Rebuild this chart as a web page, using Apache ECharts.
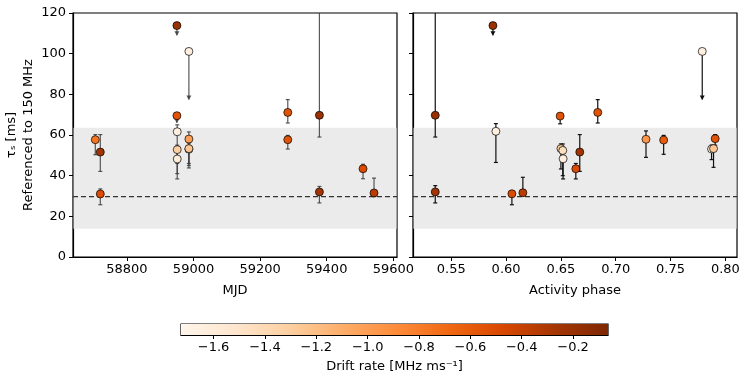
<!DOCTYPE html>
<html><head><meta charset="utf-8">
<script src="https://cdn.jsdelivr.net/npm/echarts@6/dist/echarts.min.js"></script>
<style>html,body{margin:0;padding:0;background:#fff}#c{width:748px;height:382px}</style>
</head><body><div id="c"></div>
<script>
// ---- Left panel (MJD) ----
const mjd    = [58705, 58720, 58720, 58950, 58950, 58951, 58951, 58951, 58986, 58986, 58986, 58986, 59283, 59283, 59378, 59378, 59509, 59542];
const tauL   = [57.7, 51.6, 31.0, 113.8, 69.5, 61.6, 52.8, 48.2, 101.1, 58.0, 53.0, 53.3, 71.1, 57.7, 69.7, 32.0, 43.4, 31.5];
const loL    = [50.3, 42.1, 25.7, 109.0, 66.0, 46.0, 41.0, 38.4, 77.4, 45.0, 46.0, 43.8, 65.9, 53.1, 59.0, 26.6, 38.5, 29.7];
const hiL    = [60.2, 60.2, 33.5, 113.8, 69.5, 65.0, 55.0, 52.0, 101.1, 61.5, 55.0, 56.0, 77.4, 59.8, 130.0, 34.7, 45.6, 38.8];
const ulL    = [0, 0, 0, 1, 1, 0, 0, 0, 1, 0, 0, 0, 0, 0, 0, 0, 0, 0];
const driftL = [-0.75, -0.25, -0.5, -0.2, -0.55, -1.65, -1.3, -1.6, -1.65, -1.0, -1.6, -1.25, -0.55, -0.55, -0.2, -0.25, -0.5, -0.35];

// ---- Right panel (activity phase) ----
const phase  = [0.5354, 0.5354, 0.588, 0.5907, 0.6053, 0.6153, 0.6493, 0.6500, 0.6517, 0.6520, 0.6636, 0.6672, 0.6836, 0.7276, 0.7437, 0.7789, 0.7874, 0.7892, 0.7907];
const tauR   = [69.7, 32.0, 113.8, 61.8, 31.1, 31.6, 69.3, 53.3, 52.4, 48.3, 43.4, 51.6, 71.1, 57.9, 57.5, 101.1, 53.1, 53.3, 58.2];
const loR    = [59.0, 26.6, 109.0, 46.5, 25.7, 31.6, 65.5, 43.3, 40.0, 38.4, 38.4, 42.1, 65.9, 49.0, 50.5, 77.4, 47.9, 44.1, 55.0];
const hiR    = [130.0, 35.1, 113.8, 65.6, 31.1, 39.2, 69.3, 55.6, 55.6, 50.0, 46.0, 60.2, 77.4, 62.0, 59.8, 101.1, 55.0, 55.0, 60.2];
const ulR    = [0, 0, 1, 0, 0, 0, 0, 0, 0, 0, 0, 0, 0, 0, 0, 1, 0, 0, 0];
const driftR = [-0.2, -0.25, -0.2, -1.65, -0.5, -0.35, -0.55, -1.3, -1.45, -1.65, -0.5, -0.25, -0.55, -0.95, -0.6, -1.65, -1.65, -1.25, -0.55];

// ---- Reference band / line ----
const bandRange = [13.9, 63.6];
const refLine = [29.7];

// ---- Axes ----
const mjdRange = [58638, 59611];
const mjdTicks = [58800, 59000, 59200, 59400, 59600];
const phaseRange = [0.5151, 0.8106];
const phaseTicks = [0.55, 0.60, 0.65, 0.70, 0.75, 0.80];
const tauRange = [0, 120];
const tauStep = 20;
const cbRange = [-1.727, -0.064];
const cbTicks = [-1.6, -1.4, -1.2, -1.0, -0.8, -0.6, -0.4, -0.2];
const oranges = ['#fff5eb', '#fee6ce', '#fdd0a2', '#fdae6b', '#fd8d3c', '#f16913', '#d94801', '#a63603', '#7f2704'];

const FONT = 'DejaVu Sans';
const chart = echarts.init(document.getElementById('c'), null, {renderer: 'canvas'});

function errRender(color) {
  return function (params, api) {
    const x = api.value(0), lo = api.value(1), hi = api.value(2), ul = api.value(3);
    const p1 = api.coord([x, hi]), p2 = api.coord([x, lo]);
    const st = {stroke: color, lineWidth: 1.2};
    const ch = [{type: 'line', shape: {x1: p1[0], y1: p1[1], x2: p2[0], y2: p2[1]}, style: st}];
    if (ul) {
      ch.push({type: 'polygon', shape: {points: [[p2[0] - 2.5, p2[1] - 4], [p2[0] + 2.5, p2[1] - 4], [p2[0], p2[1] + 0.5]]}, style: {fill: color}});
    } else {
      ch.push({type: 'line', shape: {x1: p1[0] - 2, y1: p1[1], x2: p1[0] + 2, y2: p1[1]}, style: st});
      ch.push({type: 'line', shape: {x1: p2[0] - 2, y1: p2[1], x2: p2[0] + 2, y2: p2[1]}, style: st});
    }
    return {type: 'group', children: ch};
  };
}
function bandRender(params, api) {
  const cs = params.coordSys;
  const yTop = api.coord([0, api.value(1)])[1];
  const yBot = api.coord([0, api.value(0)])[1];
  const yRef = api.coord([0, api.value(2)])[1];
  return {type: 'group', children: [
    {type: 'rect', shape: {x: cs.x + 0.5, y: yTop, width: cs.width - 1, height: yBot - yTop}, style: {fill: '#ebebeb'}},
    {type: 'line', shape: {x1: cs.x, y1: yRef, x2: cs.x + cs.width, y2: yRef}, style: {stroke: '#333', lineWidth: 1.2, lineDash: [5, 3]}}
  ]};
}

const bandData = [[bandRange[0], bandRange[1], refLine[0]]];
const axisCommon = {
  axisLine: {lineStyle: {color: '#000', width: 1.2}},
  axisTick: {length: 4, lineStyle: {color: '#000', width: 1}},
  axisLabel: {color: '#000', fontFamily: FONT, fontSize: 13},
  splitLine: {show: false}
};
const fmt2 = v => v.toFixed(2);
const fmtNeg = v => (v < 0 ? '\u2212' : '') + Math.abs(v).toFixed(1);

const option = {
  animation: false,
  backgroundColor: '#fff',
  grid: [
    {left: 73, top: 13, width: 324, height: 244, show: true, borderColor: '#000', borderWidth: 1.2, backgroundColor: 'transparent'},
    {left: 413, top: 13, width: 324, height: 244, show: true, borderColor: '#000', borderWidth: 1.2, backgroundColor: 'transparent'},
    {left: 181, top: 324, width: 427, height: 11, show: true, borderColor: '#000', borderWidth: 1.2, backgroundColor: 'transparent'}
  ],
  xAxis: [
    Object.assign({}, axisCommon, {gridIndex: 0, type: 'value', min: mjdRange[0], max: mjdRange[1],
      name: 'MJD', nameLocation: 'middle', nameGap: 27, nameTextStyle: {color: '#000', fontFamily: FONT, fontSize: 13},
      axisTick: {length: 4, lineStyle: {color: '#000'}, customValues: mjdTicks},
      axisLabel: {color: '#000', fontFamily: FONT, fontSize: 13, margin: 6, customValues: mjdTicks, formatter: v => String(v)}}),
    Object.assign({}, axisCommon, {gridIndex: 1, type: 'value', min: phaseRange[0], max: phaseRange[1],
      name: 'Activity phase', nameLocation: 'middle', nameGap: 27, nameTextStyle: {color: '#000', fontFamily: FONT, fontSize: 13},
      axisTick: {length: 4, lineStyle: {color: '#000'}, customValues: phaseTicks},
      axisLabel: {color: '#000', fontFamily: FONT, fontSize: 13, margin: 6, customValues: phaseTicks, formatter: fmt2}}),
    Object.assign({}, axisCommon, {gridIndex: 2, type: 'value', min: cbRange[0], max: cbRange[1],
      name: 'Drift rate [MHz ms\u207B\u00B9]', nameLocation: 'middle', nameGap: 25, nameTextStyle: {color: '#000', fontFamily: FONT, fontSize: 13},
      axisTick: {length: 4, lineStyle: {color: '#000'}, customValues: cbTicks},
      axisLabel: {color: '#000', fontFamily: FONT, fontSize: 13, margin: 6, customValues: cbTicks, formatter: fmtNeg}})
  ],
  yAxis: [
    Object.assign({}, axisCommon, {gridIndex: 0, type: 'value', min: tauRange[0], max: tauRange[1], interval: tauStep,
      axisLabel: {color: '#000', fontFamily: FONT, fontSize: 13, margin: 7}}),
    Object.assign({}, axisCommon, {gridIndex: 1, type: 'value', min: tauRange[0], max: tauRange[1], interval: tauStep,
      axisLabel: {show: false}}),
    {gridIndex: 2, type: 'value', min: 0, max: 1, show: false}
  ],
  visualMap: [{
    show: false, type: 'continuous', min: cbRange[0], max: cbRange[1], dimension: 2,
    seriesIndex: [4, 5], inRange: {color: oranges}
  }],
  graphic: [{
    type: 'text', x: 20, y: 135, rotation: Math.PI / 2,
    style: {text: '\u03C4\u209B [ms]\nReferenced to 150 MHz', fill: '#000', font: '13px "DejaVu Sans"', align: 'center', verticalAlign: 'middle', lineHeight: 17}
  }],
  series: [
    {type: 'custom', xAxisIndex: 0, yAxisIndex: 0, z: 1, silent: true, renderItem: bandRender, data: bandData},
    {type: 'custom', xAxisIndex: 1, yAxisIndex: 1, z: 1, silent: true, renderItem: bandRender, data: bandData},
    {type: 'custom', xAxisIndex: 0, yAxisIndex: 0, z: 2, clip: true, silent: true, renderItem: errRender('rgba(60,60,60,0.85)'),
      data: mjd.map((x, i) => [x, loL[i], hiL[i], ulL[i]])},
    {type: 'custom', xAxisIndex: 1, yAxisIndex: 1, z: 2, clip: true, silent: true, renderItem: errRender('#111'),
      data: phase.map((x, i) => [x, loR[i], hiR[i], ulR[i]])},
    {type: 'scatter', xAxisIndex: 0, yAxisIndex: 0, z: 3, symbolSize: 8,
      itemStyle: {borderColor: '#000', borderWidth: 0.7, opacity: 1},
      data: mjd.map((x, i) => [x, tauL[i], driftL[i]])},
    {type: 'scatter', xAxisIndex: 1, yAxisIndex: 1, z: 3, symbolSize: 8,
      itemStyle: {borderColor: '#000', borderWidth: 0.7, opacity: 1},
      data: phase.map((x, i) => [x, tauR[i], driftR[i]])},
    {type: 'custom', xAxisIndex: 2, yAxisIndex: 2, z: 1, silent: true,
      renderItem: function (params, api) {
        const cs = params.coordSys;
        const a = api.coord([api.value(0), 0]), b = api.coord([api.value(1), 1]);
        return {type: 'rect', shape: {x: a[0], y: b[1], width: b[0] - a[0], height: a[1] - b[1]},
          style: {fill: new echarts.graphic.LinearGradient(0, 0, 1, 0, oranges.map((c, k) => ({offset: k / (oranges.length - 1), color: c})))}};
      },
      data: [[cbRange[0], cbRange[1]]]}
  ]
};
chart.setOption(option);
</script>
</body></html>
